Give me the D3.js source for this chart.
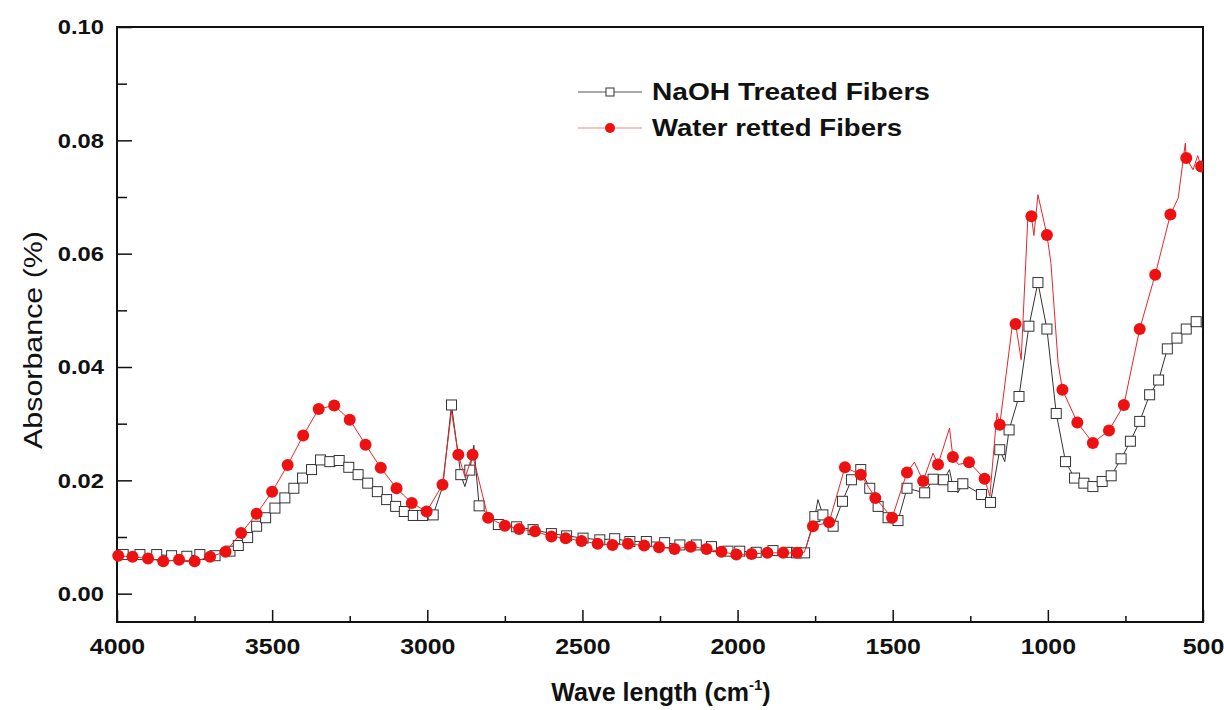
<!DOCTYPE html>
<html lang="en">
<head>
<meta charset="UTF-8">
<title>FTIR spectra</title>
<script src="https://cdn.jsdelivr.net/npm/d3@7"></script>
<style>
    body { margin: 0; background: #fff; }
    text { font-family: "Liberation Sans", Arial, sans-serif; fill: #111; }
    .tick text { font-weight: bold; }
    .naoh-line { fill: none; stroke: #333; stroke-width: 1px; }
    .water-line { fill: none; stroke: #e8262a; stroke-width: 1px; }
</style>
</head>
<body>
<div id="chart"></div>
<script>
// ticks
const xTicks = [4000, 3500, 3000, 2500, 2000, 1500, 1000, 500];
const xMinor = [3750, 3250, 2750, 2250, 1750, 1250, 750];
const yTicks = [0.00, 0.02, 0.04, 0.06, 0.08, 0.10];
const yMinor = [0.01, 0.03, 0.05, 0.07, 0.09];

const seriesNames = ["NaOH Treated Fibers", "Water retted Fibers"];

// NaOH treated - points carrying a square marker  [wavenumber, absorbance]
const naohMarks = [
    [3980,0.0069],[3926,0.0069],[3872,0.0069],[3824,0.0067],[3775,0.0066],[3733,0.0069],[3684,0.0067],[3636,0.0075],
    [3609,0.0085],[3579,0.0099],[3550,0.0119],[3521,0.0134],[3491,0.0151],[3459,0.0169],[3430,0.0186],[3402,0.0204],
    [3373,0.0219],[3344,0.0236],[3314,0.0233],[3284,0.0235],[3253,0.0223],[3223,0.0210],[3192,0.0195],[3161,0.0180],
    [3131,0.0166],[3102,0.0154],[3074,0.0145],[3045,0.0138],[3015,0.0138],[2981,0.0139],[2922,0.0333],[2892,0.0210],
    [2863,0.0218],[2833,0.0155],[2771,0.0122],[2712,0.0118],[2659,0.0113],[2600,0.0106],[2551,0.0102],[2498,0.0098],
    [2444,0.0095],[2396,0.0097],[2347,0.0092],[2294,0.0092],[2235,0.0090],[2186,0.0086],[2133,0.0086],[2084,0.0083],
    [2031,0.0075],[1993,0.0075],[1940,0.0073],[1886,0.0076],[1840,0.0073],[1810,0.0072],[1784,0.0072],[1751,0.0136],
    [1725,0.0139],[1692,0.0119],[1662,0.0163],[1633,0.0201],[1603,0.0219],[1574,0.0186],[1547,0.0154],[1515,0.0134],
    [1483,0.0129],[1454,0.0186],[1397,0.0178],[1370,0.0202],[1336,0.0201],[1306,0.0189],[1274,0.0194],[1214,0.0175],
    [1185,0.0161],[1155,0.0254],[1125,0.0289],[1093,0.0348],[1061,0.0472],[1032,0.0549],[1003,0.0467],[973,0.0318],
    [943,0.0233],[914,0.0204],[884,0.0195],[855,0.0189],[825,0.0198],[796,0.0208],[764,0.0238],[734,0.0269],
    [704,0.0304],[672,0.0351],[643,0.0377],[615,0.0432],[584,0.0451],[554,0.0467],[522,0.0480]
];
// NaOH treated - extra line points (spikes, ends) without marker
const naohExtra = [
    [4000,0.0070],[2950,0.0190],[2879,0.0189],[2850,0.0262],[1741,0.0166],
    [1317,0.0219],[1290,0.0178],[1139,0.0233],[500,0.0468]
];

// water retted - points carrying a dot marker
const waterMarks = [
    [3996,0.0067],[3950,0.0065],[3900,0.0062],[3851,0.0057],[3800,0.0060],[3750,0.0057],[3700,0.0065],[3650,0.0074],
    [3600,0.0107],[3550,0.0141],[3500,0.0180],[3450,0.0227],[3400,0.0279],[3350,0.0326],[3300,0.0332],[3250,0.0307],
    [3199,0.0263],[3150,0.0222],[3099,0.0186],[3050,0.0160],[3002,0.0145],[2951,0.0192],[2900,0.0245],[2854,0.0245],
    [2804,0.0134],[2750,0.0120],[2704,0.0114],[2653,0.0110],[2600,0.0101],[2554,0.0098],[2503,0.0093],[2451,0.0088],
    [2403,0.0086],[2353,0.0088],[2301,0.0085],[2253,0.0082],[2203,0.0079],[2151,0.0083],[2100,0.0079],[2052,0.0074],
    [2004,0.0069],[1955,0.0070],[1904,0.0072],[1853,0.0072],[1808,0.0072],[1757,0.0119],[1705,0.0126],[1654,0.0223],
    [1603,0.0210],[1556,0.0169],[1502,0.0134],[1454,0.0214],[1402,0.0199],[1354,0.0228],[1306,0.0241],[1254,0.0232],
    [1204,0.0203],[1155,0.0298],[1104,0.0476],[1053,0.0666],[1003,0.0633],[953,0.0360],[905,0.0302],[855,0.0266],
    [803,0.0288],[755,0.0333],[704,0.0467],[654,0.0563],[605,0.0669],[554,0.0769],[506,0.0754]
];
// water retted - extra line points
const waterExtra = [
    [4000,0.0066],[2922,0.0322],[2878,0.0205],[1785,0.0073],[1430,0.0232],[1370,0.0248],[1317,0.0292],
    [1288,0.0228],[1187,0.0172],[1164,0.0319],[1113,0.0480],[1086,0.0413],[1064,0.0669],[1045,0.0632],
    [1032,0.0704],[990,0.0583],[967,0.0407],[580,0.0698],[557,0.0795],[532,0.0748],[517,0.0773],[500,0.0755]
];

const margin = { top: 27, right: 21, bottom: 88, left: 117 };
const width = 1224 - margin.left - margin.right;
const height = 710 - margin.top - margin.bottom;

const x = d3.scaleLinear().domain([4000, 500]).range([0, width]);
const y = d3.scaleLinear().domain([-0.005, 0.10]).range([height, 0]);

const svg = d3.select("#chart").append("svg")
    .attr("width", 1224)
    .attr("height", 710);
const g = svg.append("g")
    .attr("transform", "translate(" + margin.left + "," + margin.top + ")");

g.append("clipPath").attr("id", "clip")
    .append("rect").attr("x", -8).attr("y", -8).attr("width", width + 8).attr("height", height + 16);

// axes (ticks point inward)
const xAxis = g.append("g")
    .attr("transform", "translate(0," + height + ")")
    .call(d3.axisBottom(x).tickValues(xTicks).tickSizeInner(-12).tickSizeOuter(0).tickPadding(16).tickFormat(d3.format("d")));
xAxis.selectAll("text").style("font-size", "22px");
g.append("g")
    .attr("transform", "translate(0," + height + ")")
    .call(d3.axisBottom(x).tickValues(xMinor).tickSizeInner(-6).tickSizeOuter(0).tickFormat(""));

const yAxis = g.append("g")
    .call(d3.axisLeft(y).tickValues(yTicks).tickSizeInner(-15).tickSizeOuter(0).tickPadding(13).tickFormat(d3.format(".2f")));
yAxis.selectAll("text").style("font-size", "21px");
g.append("g")
    .call(d3.axisLeft(y).tickValues(yMinor).tickSizeInner(-10).tickSizeOuter(0).tickFormat(""));

// tick labels in the original look a bit wider than the font
g.selectAll(".tick text").each(function() {
    const w = this.getComputedTextLength();
    if (w > 0) d3.select(this).attr("textLength", w * 1.13).attr("lengthAdjust", "spacingAndGlyphs");
});

g.selectAll(".domain").remove();
g.selectAll(".tick line").attr("stroke", "#111").attr("stroke-width", 1.5);

// frame
g.append("rect")
    .attr("width", width).attr("height", height)
    .attr("fill", "none").attr("stroke", "#111").attr("stroke-width", 2);

const line = d3.line().x(d => x(d[0])).y(d => y(d[1]));
const byWn = (a, b) => b[0] - a[0];

const plot = g.append("g").attr("clip-path", "url(#clip)");

plot.append("path").datum(naohMarks.concat(naohExtra).sort(byWn))
    .attr("class", "naoh-line").attr("d", line);

plot.selectAll(".sq").data(naohMarks).enter().append("rect")
    .attr("class", "sq")
    .attr("x", d => x(d[0]) - 5).attr("y", d => y(d[1]) - 5)
    .attr("width", 10).attr("height", 10)
    .attr("fill", "#fff").attr("stroke", "#333").attr("stroke-width", 1);

plot.append("path").datum(waterMarks.concat(waterExtra).sort(byWn))
    .attr("class", "water-line").attr("d", line);

plot.selectAll(".dot").data(waterMarks).enter().append("circle")
    .attr("class", "dot")
    .attr("cx", d => x(d[0])).attr("cy", d => y(d[1]))
    .attr("r", 6).attr("fill", "#ee1111");

// legend
const legend = svg.append("g").attr("transform", "translate(578,92)");
legend.append("line").attr("x1", 0).attr("x2", 64).attr("y1", 0).attr("y2", 0)
    .attr("stroke", "#555").attr("stroke-width", 1.2);
legend.append("rect").attr("x", 28).attr("y", -4).attr("width", 8).attr("height", 8)
    .attr("fill", "#fff").attr("stroke", "#333");
legend.append("line").attr("x1", 0).attr("x2", 64).attr("y1", 36).attr("y2", 36)
    .attr("stroke", "#e88").attr("stroke-width", 1.2);
legend.append("circle").attr("cx", 32).attr("cy", 36).attr("r", 5).attr("fill", "#ee1111");
legend.selectAll(".lt").data(seriesNames).enter().append("text")
    .attr("class", "lt")
    .attr("x", 74).attr("y", (d, i) => i * 36 + 8)
    .attr("textLength", (d, i) => i === 0 ? 278 : 250)
    .attr("lengthAdjust", "spacingAndGlyphs")
    .style("font-size", "23px").style("font-weight", "bold")
    .text(d => d);

// axis titles
svg.append("text")
    .attr("transform", "translate(42,340) rotate(-90)")
    .attr("text-anchor", "middle")
    .attr("textLength", 218).attr("lengthAdjust", "spacingAndGlyphs")
    .style("font-size", "25px")
    .text("Absorbance (%)");

const xt = svg.append("text")
    .attr("x", 661).attr("y", 701)
    .attr("text-anchor", "middle")
    .style("font-size", "25px").style("font-weight", "bold");
xt.append("tspan").text("Wave length (cm");
xt.append("tspan").attr("dy", -11).style("font-size", "15px").text("-1");
xt.append("tspan").attr("dy", 11).text(")");
</script>
</body>
</html>
